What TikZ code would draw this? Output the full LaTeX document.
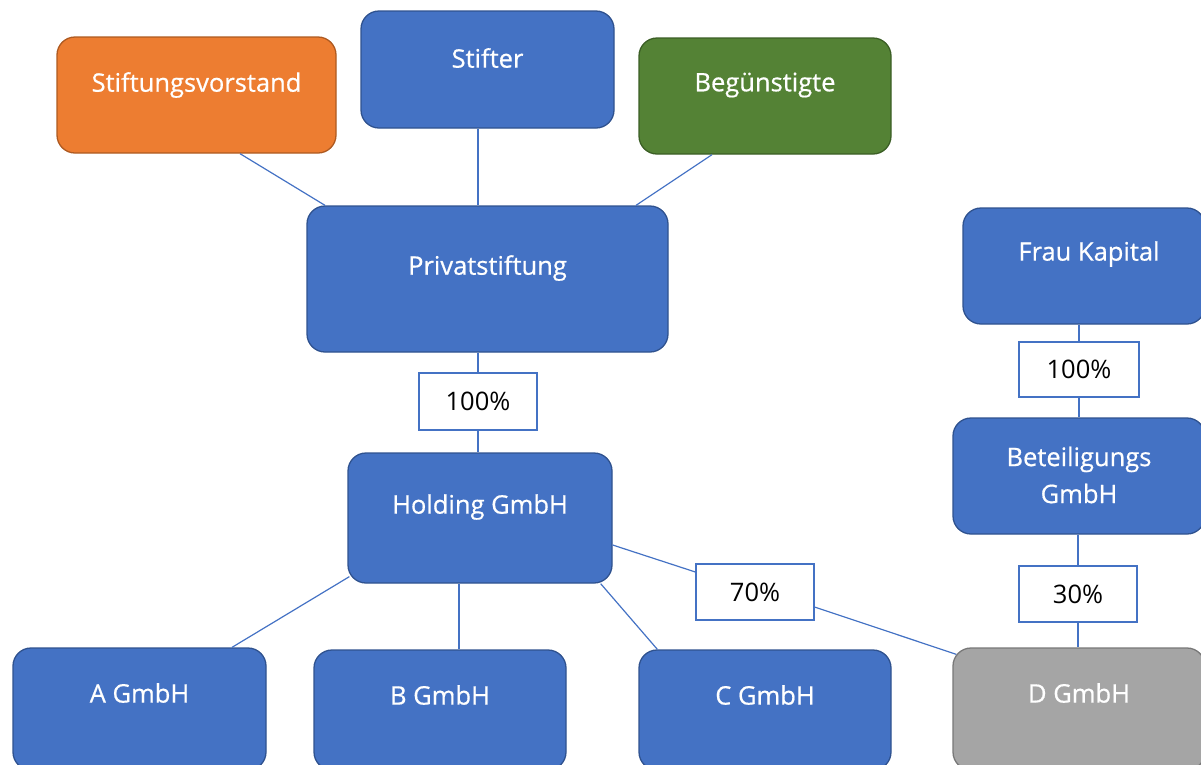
\documentclass[tikz,border=0pt]{standalone}
\usepackage{fontspec}
\setmainfont{Open Sans}
\newfontfamily\lblfont{Open Sans}[FakeBold=0.6]
\usetikzlibrary{calc}
\definecolor{bfill}{HTML}{4472C4}
\definecolor{bdraw}{HTML}{2F528F}
\definecolor{ofill}{HTML}{ED7D31}
\definecolor{odraw}{HTML}{AE5A21}
\definecolor{gfill}{HTML}{548235}
\definecolor{gdraw}{HTML}{3B5E25}
\definecolor{afill}{HTML}{A5A5A5}
\definecolor{adraw}{HTML}{787878}
\tikzset{
  box/.style={rectangle, rounded corners=18pt, line width=1.3pt, inner sep=0pt},
  bluebox/.style={box, fill=bfill, draw=bdraw},
  orangebox/.style={box, fill=ofill, draw=odraw},
  greenbox/.style={box, fill=gfill, draw=gdraw},
  graybox/.style={box, fill=afill, draw=adraw},
  txt/.style={text=white, font=\lblfont\fontsize{25.5}{37}\selectfont, inner sep=0pt, align=center},
  pct/.style={rectangle, draw=bfill, fill=white, line width=1.2pt, inner sep=0pt, text=black, font=\fontsize{25.5}{30}\selectfont},
  conn/.style={draw=bfill, line width=1.2pt}
}
\begin{document}
\begin{tikzpicture}[x=1pt,y=-1pt]
\useasboundingbox (0,0) rectangle (1201,764);
\clip (0,0) rectangle (1201,764);
% boxes
\node[orangebox, minimum width=279pt, minimum height=116pt] (vorstand) at (196.5,95) {};
\node[bluebox, minimum width=253pt, minimum height=117pt] (stifter) at (487.5,69.5) {};
\node[greenbox, minimum width=252pt, minimum height=116pt] (beg) at (765,96) {};
\node[bluebox, minimum width=361pt, minimum height=146pt] (privat) at (487.5,279) {};
\node[bluebox, minimum width=242pt, minimum height=116pt] (frau) at (1084,266) {};
\node[bluebox, minimum width=264pt, minimum height=130pt] (holding) at (480,518) {};
\node[bluebox, minimum width=252pt, minimum height=116pt] (beteil) at (1079,476) {};
\node[bluebox, minimum width=253pt, minimum height=122pt] (agmbh) at (139.5,709) {};
\node[bluebox, minimum width=252pt, minimum height=120pt] (bgmbh) at (440,710) {};
\node[bluebox, minimum width=252pt, minimum height=120pt] (cgmbh) at (765,710) {};
\node[graybox, minimum width=252pt, minimum height=122pt] (dgmbh) at (1079,709) {};
% texts
\node[txt] (vorstand-t) at (196.5,85) {Stiftungsvorstand};
\node[txt] (stifter-t) at (487.5,58) {Stifter};
\node[txt] (beg-t) at (765,85) {Begünstigte};
\node[txt] (privat-t) at (487.5,268) {Privatstiftung};
\node[txt] (frau-t) at (1089,254) {Frau Kapital};
\node[txt] (holding-t) at (480,507) {Holding GmbH};
\node[txt] (beteil-t) at (1079,475) {Beteiligungs\\GmbH};
\node[txt] (agmbh-t) at (139.5,693) {A GmbH};
\node[txt] (bgmbh-t) at (440,695) {B GmbH};
\node[txt] (cgmbh-t) at (765,695) {C GmbH};
\node[txt] (dgmbh-t) at (1079,693) {D GmbH};
% percentage boxes
\node[pct, minimum width=118pt, minimum height=57pt] (p100a) at (478,401.5) {100\%};
\node[pct, minimum width=120pt, minimum height=55pt] (p100b) at (1079,369.5) {100\%};
\node[pct, minimum width=118pt, minimum height=56pt] (p70) at (755,592) {70\%};
\node[pct, minimum width=118pt, minimum height=56pt] (p30) at (1078,594) {30\%};
% connectors
\draw[conn] ([xshift=43.5pt]vorstand.south) -- ([xshift=-162.5pt]privat.north);
\draw[conn] ([xshift=-9.5pt]stifter.south) -- ([xshift=-9.5pt]privat.north);
\draw[conn] ([xshift=-53pt]beg.south) -- ([xshift=148.5pt]privat.north);
\draw[conn] ([xshift=-9.5pt]privat.south) -- (p100a.north);
\draw[conn] (p100a.south) -- (p100a.south |- holding.north);
\draw[conn] ([shift={(2pt,7pt)}]holding.south west) -- ([xshift=92.5pt]agmbh.north);
\draw[conn] ([xshift=-21pt]holding.south) -- ([xshift=19pt]bgmbh.north);
\draw[conn] ([xshift=-12pt]holding.south east) -- ([xshift=19pt]cgmbh.north west);
\draw[conn] ([yshift=-27pt]holding.east) -- ([yshift=20pt]p70.west);
\draw[conn] ([yshift=-15pt]p70.east) -- ([shift={(4pt,-7pt)}]dgmbh.north west);
\draw[conn] (p100b.north |- frau.south) -- (p100b.north);
\draw[conn] (p100b.south) -- (p100b.south |- beteil.north);
\draw[conn] (p30.north |- beteil.south) -- (p30.north);
\draw[conn] (p30.south) -- (p30.south |- dgmbh.north);
\end{tikzpicture}
\end{document}
